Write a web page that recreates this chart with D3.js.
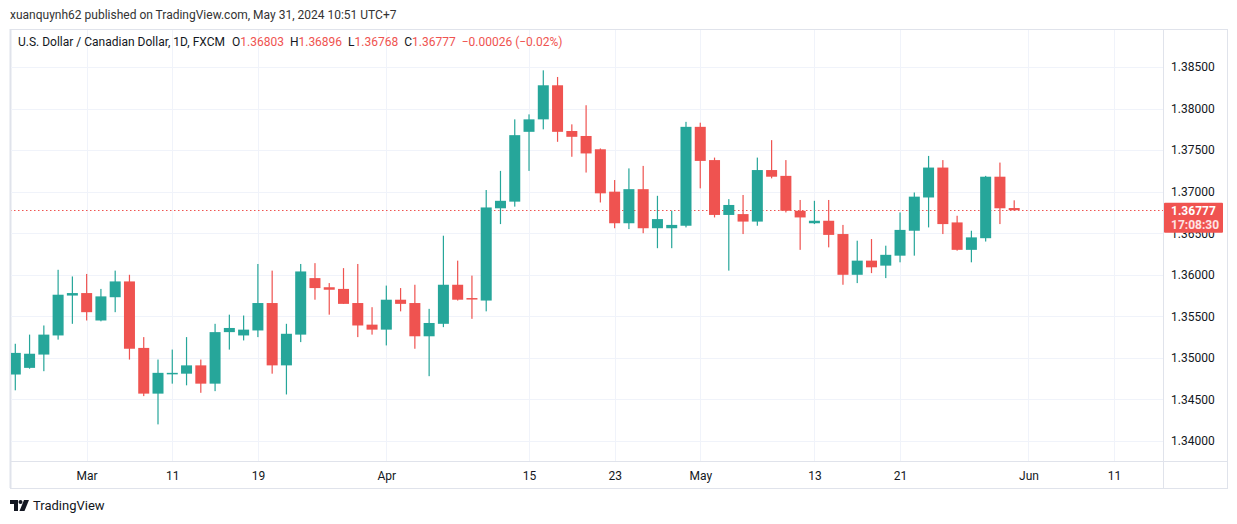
<!DOCTYPE html>
<html>
<head>
<meta charset="utf-8">
<script src="https://cdn.jsdelivr.net/npm/d3@7"></script>
<style>
  html, body { margin: 0; padding: 0; background: #ffffff; }
  svg { display: block; font-family: "Trebuchet MS", Roboto, "DejaVu Sans", sans-serif; }
</style>
</head>
<body>
<svg id="chart" width="1237" height="524"></svg>
<script>
// ---------- data (USD/CAD daily, FXCM) ----------
const dates = ["Feb 23","Feb 26","Feb 27","Feb 28","Feb 29","Mar 1","Mar 4","Mar 5","Mar 6","Mar 7","Mar 8",
  "Mar 11","Mar 12","Mar 13","Mar 14","Mar 15","Mar 18","Mar 19","Mar 20","Mar 21","Mar 22",
  "Mar 25","Mar 26","Mar 27","Mar 28","Mar 29","Apr 1","Apr 2","Apr 3","Apr 4","Apr 5",
  "Apr 8","Apr 9","Apr 10","Apr 11","Apr 12","Apr 15","Apr 16","Apr 17","Apr 18","Apr 19",
  "Apr 22","Apr 23","Apr 24","Apr 25","Apr 26","Apr 29","Apr 30","May 1","May 2","May 3",
  "May 6","May 7","May 8","May 9","May 10","May 13","May 14","May 15","May 16","May 17",
  "May 20","May 21","May 22","May 23","May 24","May 27","May 28","May 29","May 30","May 31"];
const opens = [1.3480,1.3488,1.3504,1.3527,1.3575,1.3578,1.3545,1.3573,1.3592,1.3512,1.3457,
  1.3481,1.3481,1.3491,1.3469,1.3531,1.3527,1.3533,1.3566,1.3491,1.3528,
  1.3596,1.3585,1.3583,1.3566,1.3540,1.3534,1.3570,1.3566,1.3526,1.3541,
  1.3588,1.3572,1.3569,1.3680,1.3688,1.3772,1.3787,1.3828,1.3773,1.3767,
  1.3751,1.3700,1.3662,1.3703,1.3656,1.3656,1.3659,1.3778,1.3738,1.3672,
  1.3673,1.3664,1.3726,1.3719,1.3677,1.3662,1.3665,1.3649,1.3600,1.3617,
  1.3611,1.3623,1.3653,1.3693,1.3729,1.3663,1.3630,1.3644,1.3718,1.36803];
const highs = [1.3517,1.3528,1.3539,1.3606,1.3598,1.3601,1.3583,1.3605,1.3600,1.3525,1.3498,
  1.3510,1.3525,1.3498,1.3541,1.3552,1.3551,1.3613,1.3605,1.3541,1.3613,
  1.3614,1.3590,1.3608,1.3613,1.3561,1.3587,1.3584,1.3588,1.3559,1.3647,
  1.3617,1.3599,1.3702,1.3725,1.3787,1.3793,1.3846,1.3838,1.3781,1.3804,
  1.3752,1.3714,1.3728,1.3731,1.3695,1.3677,1.3784,1.3783,1.3741,1.3691,
  1.3696,1.3741,1.3762,1.3738,1.3690,1.3689,1.3690,1.3660,1.3641,1.3643,
  1.3635,1.3675,1.3699,1.3743,1.3738,1.3671,1.3653,1.3719,1.3735,1.36896];
const lows = [1.3461,1.3487,1.3484,1.3522,1.3541,1.3545,1.3544,1.3555,1.3498,1.3454,1.3420,
  1.3469,1.3467,1.3458,1.3460,1.3510,1.3521,1.3525,1.3481,1.3456,1.3519,
  1.3570,1.3552,1.3565,1.3525,1.3528,1.3515,1.3556,1.3511,1.3478,1.3537,
  1.3569,1.3547,1.3556,1.3661,1.3682,1.3725,1.3775,1.3760,1.3742,1.3723,
  1.3687,1.3656,1.3655,1.3650,1.3632,1.3632,1.3657,1.3704,1.3669,1.3605,
  1.3649,1.3659,1.3716,1.3675,1.3630,1.3661,1.3633,1.3588,1.3590,1.3602,
  1.3596,1.3615,1.3623,1.3657,1.3649,1.3629,1.3615,1.3640,1.3661,1.36768];
const closes = [1.3506,1.3505,1.3528,1.3576,1.3578,1.3555,1.3574,1.3592,1.3511,1.3457,1.3482,
  1.3482,1.3491,1.3469,1.3531,1.3536,1.3534,1.3566,1.3491,1.3529,1.3604,
  1.3584,1.3582,1.3565,1.3539,1.3534,1.3570,1.3565,1.3526,1.3542,1.3588,
  1.3570,1.3571,1.3681,1.3689,1.3768,1.3787,1.3828,1.3772,1.3766,1.3746,
  1.3698,1.3662,1.3703,1.3656,1.3667,1.3660,1.3778,1.3737,1.3672,1.3684,
  1.3664,1.3726,1.3718,1.3677,1.3669,1.3665,1.3648,1.3600,1.3617,1.3609,
  1.3624,1.3654,1.3694,1.3729,1.3661,1.3630,1.3645,1.3718,1.3680,1.36777];

const timeTickLabels = ["Mar","11","19","Apr","15","23","May","13","21","Jun","11"];
const timeTickIndex  = [5, 11, 17, 26, 36, 42, 48, 56, 62, 71, 77];
const priceTicks = [1.340,1.345,1.350,1.355,1.360,1.365,1.370,1.375,1.380,1.385];

const headerText = "xuanquynh62 published on TradingView.com, May 31, 2024 10:51 UTC+7";
const symbolText = "U.S. Dollar / Canadian Dollar, 1D, FXCM";
const lastPrice = 1.36777;
const countdown = "17:08:30";

// ---------- layout ----------
const UP = "#26a69a", DOWN = "#ef5350";
const frame = {left: 10, right: 1227, top: 29, bottom: 488};
const plotRight = 1163, axisTop = 461;

const svg = d3.select("#chart");

const x = d3.scaleLinear().domain([0, 77]).range([15.3, 15.3 + 77 * 14.27]);
const y = d3.scaleLinear().domain([1.34, 1.385]).range([441, 67]);

// header
svg.append("text").attr("x", 10).attr("y", 19)
  .attr("font-size", 12).attr("fill", "#333").text(headerText);

// frame
svg.append("rect").attr("x", frame.left + 0.5).attr("y", frame.top + 0.5)
  .attr("width", frame.right - frame.left).attr("height", frame.bottom - frame.top)
  .attr("fill", "none").attr("stroke", "#e0e3eb").attr("stroke-width", 1);
svg.append("line").attr("x1", frame.left + 0.5).attr("x2", frame.left + 0.5)
  .attr("y1", frame.top).attr("y2", frame.bottom).attr("stroke", "#e0e3eb").attr("stroke-width", 2);

// clip for plot area
svg.append("clipPath").attr("id", "plotClip").append("rect")
  .attr("x", frame.left + 1).attr("y", frame.top + 1)
  .attr("width", plotRight - frame.left - 1).attr("height", axisTop - frame.top - 1);

const plot = svg.append("g").attr("clip-path", "url(#plotClip)");

// grid
plot.append("g").selectAll("line").data(priceTicks.concat([1.39])).join("line")
  .attr("x1", frame.left).attr("x2", plotRight)
  .attr("y1", d => Math.round(y(d)) + 0.5).attr("y2", d => Math.round(y(d)) + 0.5)
  .attr("stroke", "#f0f3fa").attr("stroke-width", 1);
plot.append("g").selectAll("line").data(timeTickIndex).join("line")
  .attr("x1", d => Math.round(x(d)) + 0.5).attr("x2", d => Math.round(x(d)) + 0.5)
  .attr("y1", frame.top).attr("y2", axisTop)
  .attr("stroke", "#f0f3fa").attr("stroke-width", 1);

// last price dotted line
plot.append("line").attr("x1", frame.left).attr("x2", plotRight)
  .attr("y1", Math.round(y(lastPrice)) + 0.5).attr("y2", Math.round(y(lastPrice)) + 0.5)
  .attr("stroke", DOWN).attr("stroke-width", 1).attr("stroke-dasharray", "1.5,2.5");

// candles
const candles = dates.map((d, i) => ({i, o: opens[i], h: highs[i], l: lows[i], c: closes[i]}));
const cg = plot.append("g").selectAll("g").data(candles).join("g");
cg.append("rect")
  .attr("x", d => x(d.i) - 0.6).attr("width", 1.2)
  .attr("y", d => y(d.h)).attr("height", d => Math.max(1, y(d.l) - y(d.h)))
  .attr("fill", d => d.c >= d.o ? UP : DOWN);
cg.append("rect")
  .attr("x", d => x(d.i) - 5.5).attr("width", 11)
  .attr("y", d => y(Math.max(d.o, d.c)))
  .attr("height", d => Math.max(1.5, Math.abs(y(d.o) - y(d.c))))
  .attr("fill", d => d.c >= d.o ? UP : DOWN);

// axes separators
svg.append("line").attr("x1", plotRight + 0.5).attr("x2", plotRight + 0.5)
  .attr("y1", frame.top).attr("y2", frame.bottom).attr("stroke", "#e0e3eb");
svg.append("line").attr("x1", frame.left).attr("x2", frame.right)
  .attr("y1", axisTop + 0.5).attr("y2", axisTop + 0.5).attr("stroke", "#e0e3eb");

// price axis via d3 (the 1.36500 label sits under the last-price tag, as in the original)
const yAxis = d3.axisRight(y).tickValues(priceTicks).tickFormat(d3.format(".5f"))
  .tickSize(0).tickPadding(0);
const ya = svg.append("g").attr("transform", `translate(${plotRight + 8},0)`).call(yAxis);
ya.select(".domain").remove();
ya.selectAll("text").attr("font-size", 12).attr("fill", "#131722")
  .attr("font-family", "\"Trebuchet MS\", Roboto, sans-serif");

// time axis via d3
const xAxis = d3.axisBottom(x).tickValues(timeTickIndex)
  .tickFormat((d, k) => timeTickLabels[k]).tickSize(0).tickPadding(0);
const xa = svg.append("g").attr("transform", `translate(0,${axisTop + 10})`).call(xAxis);
xa.select(".domain").remove();
xa.selectAll("text").attr("font-size", 12).attr("fill", "#131722")
  .attr("font-family", "\"Trebuchet MS\", Roboto, sans-serif");

// last price label
const ly = y(lastPrice);
svg.append("rect").attr("x", plotRight + 1).attr("y", ly - 7.5)
  .attr("width", 59).attr("height", 30).attr("rx", 1).attr("fill", "#f05350");
svg.append("text").attr("x", plotRight + 8).attr("y", ly + 5)
  .attr("font-size", 12).attr("font-weight", "bold").attr("fill", "#ffffff")
  .text(d3.format(".5f")(lastPrice));
svg.append("text").attr("x", plotRight + 8).attr("y", ly + 19)
  .attr("font-size", 12).attr("font-weight", "bold").attr("fill", "#fde3e3")
  .text(countdown);

// legend line
const last = candles[candles.length - 1];
const leg = svg.append("text").attr("x", 18).attr("y", 46).attr("font-size", 12).attr("fill", "#131722");
leg.append("tspan").text(symbolText);
const parts = [["O", last.o], ["H", last.h], ["L", last.l], ["C", last.c]];
parts.forEach((p, k) => {
  leg.append("tspan").attr("dx", k === 0 ? 7 : 6).text(p[0]);
  leg.append("tspan").attr("fill", DOWN).text(d3.format(".5f")(p[1]));
});
leg.append("tspan").attr("dx", 6).attr("fill", DOWN)
  .text("\u2212" + d3.format(".5f")(0.00026) + " (\u2212" + "0.02%)");

// footer logo
const logo = svg.append("g").attr("transform", "translate(10,500)").attr("fill", "#131722");
logo.append("path").attr("d", "M0 0 H8 V11 H4 V4 H0 Z");
logo.append("circle").attr("cx", 10.5).attr("cy", 2).attr("r", 2);
logo.append("path").attr("d", "M14 0 H19 L14.5 11 H9.5 Z");
svg.append("text").attr("x", 33).attr("y", 510).attr("font-size", 13)
  .attr("fill", "#131722").text("TradingView");
</script>
</body>
</html>
